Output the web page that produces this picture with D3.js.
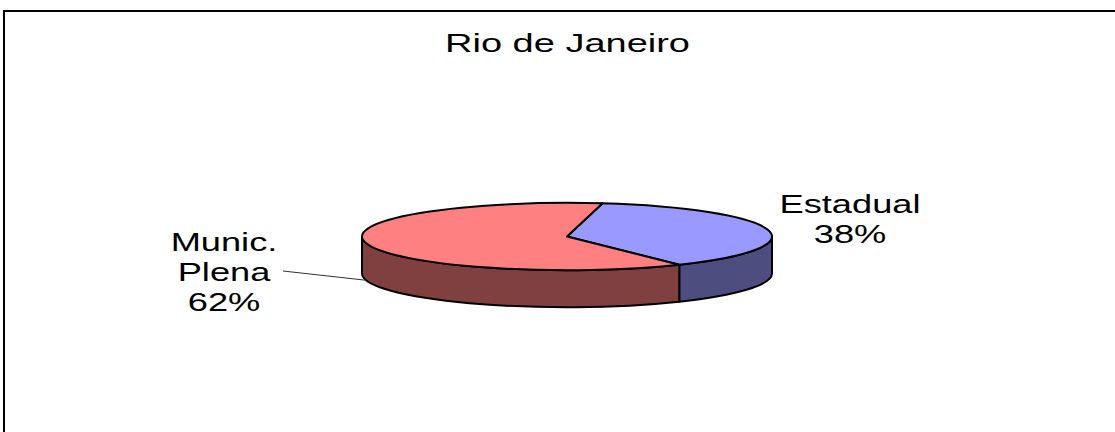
<!DOCTYPE html>
<html lang="pt">
<head>
<meta charset="UTF-8">
<title>Rio de Janeiro</title>
<script src="https://cdnjs.cloudflare.com/ajax/libs/d3/7.8.5/d3.min.js"></script>
<style>
    body { margin: 0; padding: 0; background: #fff; }
    svg { display: block; }
    text { font-family: "Liberation Sans", Arial, Helvetica, sans-serif; fill: #000; }
</style>
</head>
<body>
<div id="chart"></div>
<script>
    // dados
    const title = "Rio de Janeiro";
    const categories = ["Estadual", "Munic. Plena"];
    const values = [38, 62];
    const labelNames = [["Estadual"], ["Munic.", "Plena"]];
    const topColors = ["#9999FF", "#FF8080"];
    const sideColors = ["#4D4D80", "#804040"];

    const width = 1115, height = 432;
    const cx = 567, cy = 236.5, rx = 205, ry = 33.7, depth = 37;
    const firstAngle = 10 * Math.PI / 180;
    const stretch = 1.45; // o texto original aparece esticado na horizontal

    const svg = d3.select("#chart").append("svg")
        .attr("width", width)
        .attr("height", height);

    // moldura
    svg.append("rect")
        .attr("x", 4).attr("y", 11)
        .attr("width", width + 20).attr("height", height + 20)
        .attr("fill", "none")
        .attr("stroke", "#000")
        .attr("stroke-width", 2);

    svg.append("text")
        .attr("transform", `translate(${width / 2 + 10},52) scale(1.52,1)`)
        .attr("text-anchor", "middle")
        .style("font-size", "25px")
        .text(title);

    const pie = d3.pie().sort(null).value(d => d)
        .startAngle(firstAngle)
        .endAngle(firstAngle + 2 * Math.PI);
    const arcs = pie(values);

    // ponto na elipse (ângulo no sentido horário a partir do topo)
    function pt(a, dz = 0) {
        return [cx + rx * Math.sin(a), cy - ry * Math.cos(a) + dz];
    }

    function wallPath(a0, a1) {
        const lo = Math.max(a0, Math.PI / 2), hi = Math.min(a1, 3 * Math.PI / 2);
        if (lo >= hi) return null;
        const p0 = pt(lo), p1 = pt(hi), q1 = pt(hi, depth), q0 = pt(lo, depth);
        return `M${p0}A${rx},${ry} 0 0 1 ${p1}L${q1}A${rx},${ry} 0 0 0 ${q0}Z`;
    }

    function topPath(a0, a1) {
        const p0 = pt(a0), p1 = pt(a1);
        const large = (a1 - a0) > Math.PI ? 1 : 0;
        return `M${cx},${cy}L${p0}A${rx},${ry} 0 ${large} 1 ${p1}Z`;
    }

    const g = svg.append("g")
        .attr("stroke", "#000")
        .attr("stroke-width", 2)
        .attr("stroke-linejoin", "round");

    g.selectAll(".wall")
        .data(arcs.filter(d => wallPath(d.startAngle, d.endAngle)))
        .enter().append("path")
        .attr("class", "wall")
        .attr("d", d => wallPath(d.startAngle, d.endAngle))
        .attr("fill", d => sideColors[d.index]);

    g.selectAll(".top")
        .data(arcs)
        .enter().append("path")
        .attr("class", "top")
        .attr("d", d => topPath(d.startAngle, d.endAngle))
        .attr("fill", d => topColors[d.index]);

    // rótulos
    const total = d3.sum(values);
    const pct = d3.format(".0%");
    const labelPos = [
        { x: 850, y: 213, leader: null },
        { x: 224, y: 251, leader: [283, 271] }
    ];
    const lineH = 30;

    arcs.forEach((d, i) => {
        const lines = labelNames[i].concat([pct(d.value / total)]);
        const pos = labelPos[i];
        lines.forEach((t, k) => {
            svg.append("text")
                .attr("transform", `translate(${pos.x},${pos.y + k * lineH}) scale(${stretch},1)`)
                .attr("text-anchor", "middle")
                .style("font-size", "25px")
                .text(t);
        });
        if (pos.leader) {
            const mid = (d.startAngle + d.endAngle) / 2;
            const end = pt(mid, depth);
            svg.append("line")
                .attr("x1", pos.leader[0]).attr("y1", pos.leader[1])
                .attr("x2", end[0]).attr("y2", end[1])
                .attr("stroke", "#333")
                .attr("stroke-width", 1);
        }
    });
</script>
</body>
</html>
